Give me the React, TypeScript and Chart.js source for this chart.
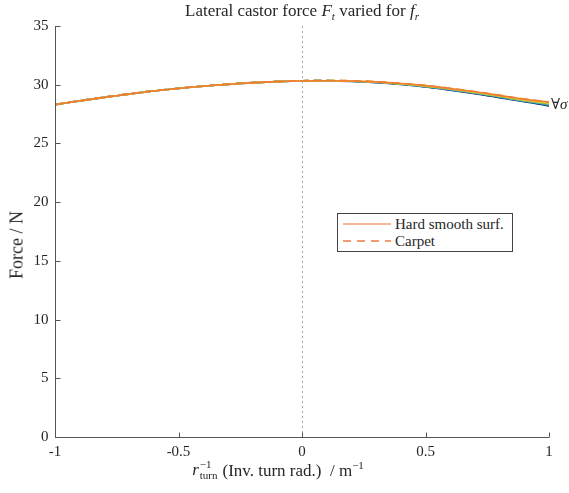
import React, { useEffect, useRef } from "react";
import { Chart, registerables } from "chart.js";

Chart.register(...registerables);

const xValues = [-1, -0.9, -0.8, -0.7, -0.6, -0.5, -0.4, -0.3, -0.2, -0.1, 0, 0.1, 0.2, 0.3, 0.4, 0.5, 0.6, 0.7, 0.8, 0.9, 1];

const sigmaOrange = [28.3, 28.62, 28.92, 29.2, 29.46, 29.68, 29.87, 30.03, 30.16, 30.26, 30.32, 30.34, 30.32, 30.24, 30.1, 29.92, 29.68, 29.4, 29.09, 28.77, 28.52];
const sigmaYellow = [28.3, 28.62, 28.92, 29.2, 29.46, 29.68, 29.87, 30.03, 30.16, 30.26, 30.32, 30.34, 30.31, 30.23, 30.08, 29.89, 29.65, 29.36, 29.04, 28.7, 28.44];
const sigmaGreen = [28.3, 28.62, 28.92, 29.2, 29.46, 29.68, 29.87, 30.03, 30.16, 30.26, 30.32, 30.34, 30.3, 30.21, 30.06, 29.86, 29.61, 29.32, 28.99, 28.64, 28.36];
const sigmaBlue = [28.3, 28.62, 28.92, 29.2, 29.46, 29.68, 29.87, 30.03, 30.16, 30.26, 30.32, 30.33, 30.29, 30.2, 30.04, 29.83, 29.58, 29.28, 28.95, 28.6, 28.28];
const sigmaNavy = [28.3, 28.62, 28.92, 29.2, 29.46, 29.68, 29.87, 30.03, 30.16, 30.26, 30.32, 30.33, 30.28, 30.18, 30.02, 29.8, 29.54, 29.24, 28.9, 28.55, 28.2];

// drawn top-most first
const seriesList = [sigmaOrange, sigmaYellow, sigmaGreen, sigmaBlue, sigmaNavy];
const seriesColors = ["#f07f32", "#e8c23a", "#7cc24a", "#2b9fd0", "#24307f"];

const yTicks = [0, 5, 10, 15, 20, 25, 30, 35];
const xTicks = [-1, -0.5, 0, 0.5, 1];
const xTickLabels = ["-1", "-0.5", "0", "0.5", "1"];

const AXIS = "#555555";
const TEXT = "#262626";
const FONT = "'Liberation Serif', 'DejaVu Serif', serif";

export default function App() {
  const ref = useRef<HTMLCanvasElement | null>(null);

  useEffect(() => {
    if (!ref.current) return;
    const datasets: any[] = [];
    seriesList.forEach((s, i) => {
      datasets.push({
        label: "solid" + i,
        data: xValues.map((x, k) => ({ x, y: s[k] })),
        borderColor: seriesColors[i],
        borderWidth: 1.6,
        pointRadius: 0,
        tension: 0.4,
        fill: false,
        order: i * 2,
      });
      datasets.push({
        label: "dash" + i,
        data: xValues.map((x, k) => ({ x, y: s[k] + 0.02 })),
        borderColor: seriesColors[i],
        borderWidth: 1.6,
        borderDash: [8, 5],
        pointRadius: 0,
        tension: 0.4,
        fill: false,
        order: i * 2 + 1,
      });
    });

    const tickPlugin = {
      id: "inwardTicks",
      afterDatasetsDraw(chart: any) {
        const { ctx, chartArea, scales } = chart;
        const xs = scales.x;
        const ys = scales.y;
        ctx.save();
        ctx.strokeStyle = "#aaaaaa";
        ctx.lineWidth = 1;
        ctx.setLineDash([2, 3]);
        const x0 = Math.round(xs.getPixelForValue(0)) + 0.5;
        ctx.beginPath();
        ctx.moveTo(x0, chartArea.top);
        ctx.lineTo(x0, chartArea.bottom);
        ctx.stroke();
        ctx.setLineDash([]);
        ctx.strokeStyle = AXIS;
        ctx.lineWidth = 1;
        const l = Math.round(chartArea.left) + 0.5;
        const b = Math.round(chartArea.bottom) + 0.5;
        ctx.beginPath();
        ctx.moveTo(l, chartArea.top);
        ctx.lineTo(l, b);
        ctx.lineTo(chartArea.right, b);
        ctx.stroke();
        ctx.beginPath();
        yTicks.forEach((v) => {
          const y = Math.round(ys.getPixelForValue(v)) + 0.5;
          ctx.moveTo(l, y);
          ctx.lineTo(l + 5, y);
        });
        xTicks.forEach((v) => {
          const x = Math.round(xs.getPixelForValue(v)) + 0.5;
          ctx.moveTo(x, b);
          ctx.lineTo(x, b - 5);
        });
        ctx.stroke();
        ctx.fillStyle = TEXT;
        ctx.font = "15px " + FONT;
        ctx.textAlign = "right";
        ctx.textBaseline = "middle";
        yTicks.forEach((v) => {
          ctx.fillText(String(v), l - 7, ys.getPixelForValue(v));
        });
        ctx.textAlign = "center";
        ctx.textBaseline = "top";
        xTicks.forEach((v, i) => {
          ctx.fillText(xTickLabels[i], xs.getPixelForValue(v), b + 7);
        });
        ctx.textAlign = "left";
        ctx.textBaseline = "middle";
        ctx.font = "italic 15px " + FONT;
        ctx.fillText("\u2200\u03C3", xs.getPixelForValue(1) + 2, ys.getPixelForValue(28.3));
        ctx.restore();
      },
    };

    const chart = new Chart(ref.current, {
      type: "line",
      data: { datasets },
      options: {
        animation: false,
        responsive: false,
        maintainAspectRatio: false,
        layout: { padding: { left: 0, right: 20, top: 26, bottom: 0 } },
        plugins: {
          legend: { display: false },
          tooltip: { enabled: false },
          title: { display: false },
        },
        scales: {
          x: {
            type: "linear",
            min: -1,
            max: 1,
            grid: { display: false },
            border: { display: false },
            ticks: { display: false },
            afterFit: (s: any) => {
              s.height = 56;
            },
          },
          y: {
            type: "linear",
            min: 0,
            max: 35,
            grid: { display: false },
            border: { display: false },
            ticks: { display: false },
            afterFit: (s: any) => {
              s.width = 55;
            },
          },
        },
      },
      plugins: [tickPlugin],
    });
    return () => chart.destroy();
  }, []);

  return (
    <div style={{ position: "fixed", left: 0, top: 0, width: 569, height: 493, background: "#fff", fontFamily: FONT, color: TEXT }}>
      <canvas ref={ref} width={569} height={493} style={{ position: "absolute", left: 0, top: 0, width: 569, height: 493 }} />
      <div style={{ position: "absolute", left: 0, width: 604, top: 1, textAlign: "center", fontSize: 17, whiteSpace: "nowrap" }}>
        Lateral castor force <i>F</i><sub style={{ fontSize: 11 }}><i>t</i></sub> varied for <i>f</i><sub style={{ fontSize: 11 }}><i>r</i></sub>
      </div>
      <div style={{ position: "absolute", left: 17, top: 245, transform: "translate(-50%, -50%) rotate(-90deg)", fontSize: 18, whiteSpace: "nowrap" }}>
        Force / N
      </div>
      <div style={{ position: "absolute", left: 278, top: 470, transform: "translate(-50%, -50%)", fontSize: 17, whiteSpace: "nowrap", display: "flex", alignItems: "center" }}>
        <i>r</i>
        <span style={{ display: "inline-flex", flexDirection: "column", fontSize: 11, lineHeight: "11px", marginLeft: 1, marginRight: 5 }}>
          <span>&minus;1</span>
          <span>turn</span>
        </span>
        <span>(Inv. turn rad.) &nbsp;/ m<sup style={{ fontSize: 11 }}>&minus;1</sup></span>
      </div>
      <div style={{ position: "absolute", left: 337, top: 213, width: 176, height: 39, border: "1px solid #444", background: "#fff", boxSizing: "border-box", fontSize: 15 }}>
        <div style={{ position: "absolute", left: 5, top: 2, display: "flex", alignItems: "center", height: 16 }}>
          <svg width={48} height={4}><line x1={0} y1={2} x2={48} y2={2} stroke="#f7a072" strokeWidth={1.6} /></svg>
          <span style={{ marginLeft: 4 }}>Hard smooth surf.</span>
        </div>
        <div style={{ position: "absolute", left: 5, top: 19, display: "flex", alignItems: "center", height: 16 }}>
          <svg width={48} height={4}><line x1={0} y1={2} x2={48} y2={2} stroke="#ee7a45" strokeWidth={1.6} strokeDasharray="8 6" /></svg>
          <span style={{ marginLeft: 4 }}>Carpet</span>
        </div>
      </div>
    </div>
  );
}
